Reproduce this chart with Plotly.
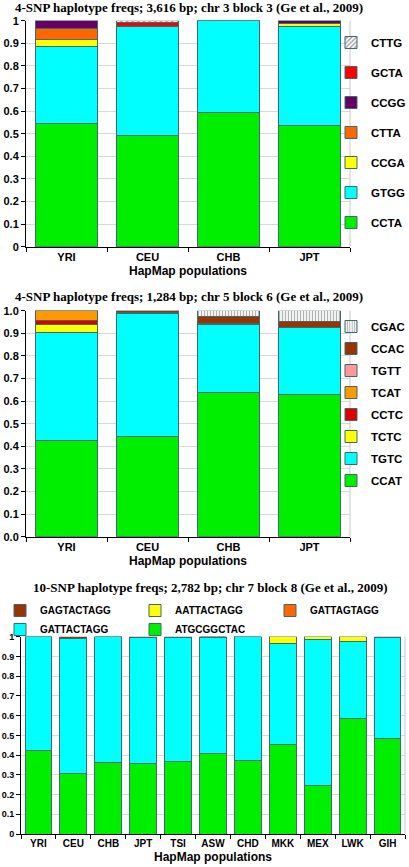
import plotly.graph_objects as go

W, H = 409, 867

# ---------------- data ----------------
pops1 = ["YRI", "CEU", "CHB", "JPT"]
hap1 = ["CCTA", "GTGG", "CCGA", "CTTA", "CCGG", "GCTA", "CTTG"]
CCTA = [0.543, 0.493, 0.593, 0.535]
GTGG = [0.345, 0.482, 0.407, 0.440]
CCGA = [0.027, 0.000, 0.000, 0.012]
CTTA = [0.050, 0.000, 0.000, 0.000]
CCGG = [0.035, 0.000, 0.000, 0.013]
GCTA = [0.000, 0.018, 0.000, 0.000]
CTTG = [0.000, 0.007, 0.000, 0.000]
vals1 = [CCTA, GTGG, CCGA, CTTA, CCGG, GCTA, CTTG]

pops2 = ["YRI", "CEU", "CHB", "JPT"]
hap2 = ["CCAT", "TGTC", "TCTC", "CCTC", "TCAT", "TGTT", "CCAC", "CGAC"]
CCAT = [0.425, 0.445, 0.640, 0.630]
TGTC = [0.480, 0.542, 0.300, 0.295]
TCTC = [0.035, 0.000, 0.000, 0.000]
CCTC = [0.015, 0.000, 0.000, 0.000]
TCAT = [0.045, 0.005, 0.000, 0.000]
TGTT = [0.000, 0.000, 0.002, 0.002]
CCAC = [0.000, 0.008, 0.033, 0.025]
CGAC = [0.000, 0.000, 0.025, 0.048]
vals2 = [CCAT, TGTC, TCTC, CCTC, TCAT, TGTT, CCAC, CGAC]

pops3 = ["YRI", "CEU", "CHB", "JPT", "TSI", "ASW", "CHD", "MKK", "MEX", "LWK", "GIH"]
hap3 = ["ATGCGGCTAC", "GATTACTAGG", "GATTAGTAGG", "AATTACTAGG", "GAGTACTAGG"]
ATGCGGCTAC = [0.425, 0.307, 0.363, 0.355, 0.368, 0.410, 0.372, 0.455, 0.247, 0.583, 0.482]
GATTACTAGG = [0.575, 0.686, 0.637, 0.639, 0.627, 0.585, 0.628, 0.510, 0.738, 0.394, 0.513]
GATTAGTAGG = [0.000, 0.000, 0.000, 0.000, 0.000, 0.005, 0.000, 0.000, 0.000, 0.000, 0.000]
AATTACTAGG = [0.000, 0.000, 0.000, 0.000, 0.000, 0.000, 0.000, 0.035, 0.015, 0.023, 0.000]
GAGTACTAGG = [0.000, 0.007, 0.000, 0.006, 0.005, 0.000, 0.000, 0.000, 0.000, 0.000, 0.005]
vals3 = [ATGCGGCTAC, GATTACTAGG, GATTAGTAGG, AATTACTAGG, GAGTACTAGG]

titles = [
    "4-SNP haplotype freqs; 3,616 bp; chr 3 block 3 (Ge et al., 2009)",
    "4-SNP haplotype freqs; 1,284 bp; chr 5 block 6 (Ge et al., 2009)",
    "10-SNP haplotype freqs; 2,782 bp; chr 7 block 8 (Ge et al., 2009)",
]
xtitle = "HapMap populations"

# ---------------- styles ----------------
colors1 = {"CCTA": "#00ee00", "GTGG": "#00ffff", "CCGA": "#ffff00", "CTTA": "#ff6600",
           "CCGG": "#660066", "GCTA": "#ff0000", "CTTG": "#ffffff"}
colors2 = {"CCAT": "#00ee00", "TGTC": "#00ffff", "TCTC": "#ffff00", "CCTC": "#dd0000",
           "TCAT": "#ff9900", "TGTT": "#ff9999", "CCAC": "#993300", "CGAC": "#ffffff"}
colors3 = {"ATGCGGCTAC": "#00ee00", "GATTACTAGG": "#00ffff", "GATTAGTAGG": "#ff6600",
           "AATTACTAGG": "#ffff00", "GAGTACTAGG": "#993300"}
patterns = {"CTTG": dict(shape="/", fgcolor="#333333", bgcolor="#ffffff", size=4, solidity=0.4),
            "CGAC": dict(shape="|", fgcolor="#666666", bgcolor="#ffffff", size=3, solidity=0.45)}
outline = "#3d6b6b"

fig = go.Figure()

def add_set(pops, haps, vals, colors, xa, ya, leg, gid):
    n = len(haps)
    for i, (h, v) in enumerate(zip(haps, vals)):
        marker = dict(color=colors[h], line=dict(color=outline, width=1))
        if h in patterns:
            marker["pattern"] = patterns[h]
        kw = {}
        if gid:
            kw["legendgroup"] = f"{gid}{h}"
        fig.add_trace(go.Bar(x=pops, y=v, name=h, marker=marker, xaxis=xa, yaxis=ya,
                             legend=leg, legendrank=1000 + (n - i), hoverinfo="x+y+name", **kw))

add_set(pops1, hap1, vals1, colors1, "x", "y", "legend", "a")
add_set(pops2, hap2, vals2, colors2, "x2", "y2", "legend2", "b")
add_set(pops3, hap3, vals3, colors3, "x3", "y3", "legend3", None)

def py(px):
    return 1 - px / H

def pxx(px):
    return px / W

tit_font = dict(family="Liberation Sans", size=12, color="#000000", weight="bold")

def xax(domain, anchor, fs=11):
    return dict(domain=domain, anchor=anchor, showline=True, linecolor="#000000", linewidth=1,
                ticks="outside", tickson="boundaries", ticklen=4, tickcolor="#000000",
                tickfont=dict(family="Liberation Sans", size=fs, color="#000000", weight="bold"),
                title=dict(text=xtitle, font=tit_font, standoff=4), showgrid=False,
                automargin=False, fixedrange=True)

def yax(domain, anchor, fmt, fs=11):
    return dict(domain=domain, anchor=anchor, range=[0, 1], dtick=0.1, tickformat=fmt,
                showline=True, linecolor="#000000", linewidth=1, ticks="outside", ticklen=4,
                tickcolor="#000000", showgrid=True, gridcolor="#d9d9d9", gridwidth=1,
                tickfont=dict(family="Liberation Sans", size=fs, color="#000000", weight="bold"),
                zeroline=False, automargin=False, fixedrange=True)

leg_font = dict(family="Liberation Sans", size=11.5, color="#000000", weight="bold")

fig.update_layout(
    width=W, height=H, margin=dict(l=0, r=0, t=0, b=0, autoexpand=False),
    paper_bgcolor="#ffffff", plot_bgcolor="#ffffff",
    barmode="stack", bargap=0.23,
    xaxis=xax([pxx(26), pxx(350)], "y"),
    yaxis=yax([py(246.7), py(20.7)], "x", ""),
    xaxis2=xax([pxx(26), pxx(350)], "y2"),
    yaxis2=yax([py(536.7), py(310.7)], "x2", ".1f"),
    xaxis3=xax([pxx(21), pxx(405)], "y3", fs=10),
    yaxis3=yax([py(834), py(636.7)], "x3", "", fs=9),
    legend=dict(x=pxx(331), xanchor="left", y=py(28), yanchor="top",
                traceorder="grouped", tracegroupgap=11, font=leg_font,
                bgcolor="rgba(0,0,0,0)"),
    legend2=dict(x=pxx(331), xanchor="left", y=py(312), yanchor="top",
                 traceorder="grouped", tracegroupgap=3, font=leg_font,
                 bgcolor="rgba(0,0,0,0)"),
    legend3=dict(x=0, xanchor="left", y=py(596), yanchor="top", orientation="h",
                 traceorder="normal", entrywidth=90, entrywidthmode="pixels",
                 font=dict(family="Liberation Sans", size=10, color="#000000", weight="bold"),
                 bgcolor="rgba(0,0,0,0)"),
    showlegend=True,
)

# right-side light border of plot areas
for xa, ya in [("x", "y"), ("x2", "y2"), ("x3", "y3")]:
    fig.add_shape(type="line", xref=f"{xa} domain", yref=f"{ya} domain", x0=1, x1=1, y0=0, y1=1,
                  line=dict(color="#c8c8c8", width=1))

# titles
title_font = dict(family="Liberation Serif", size=13, color="#000000", weight="bold")
for t, xc, yc in [(titles[0], 189, 8), (titles[1], 189, 297), (titles[2], 210, 587)]:
    fig.add_annotation(text=t, x=pxx(xc), y=py(yc), xref="paper", yref="paper",
                       showarrow=False, xanchor="center", yanchor="middle", font=title_font)

fig.write_html("out.html", config={"displayModeBar": False},
               post_script="document.body.style.margin='0';")
